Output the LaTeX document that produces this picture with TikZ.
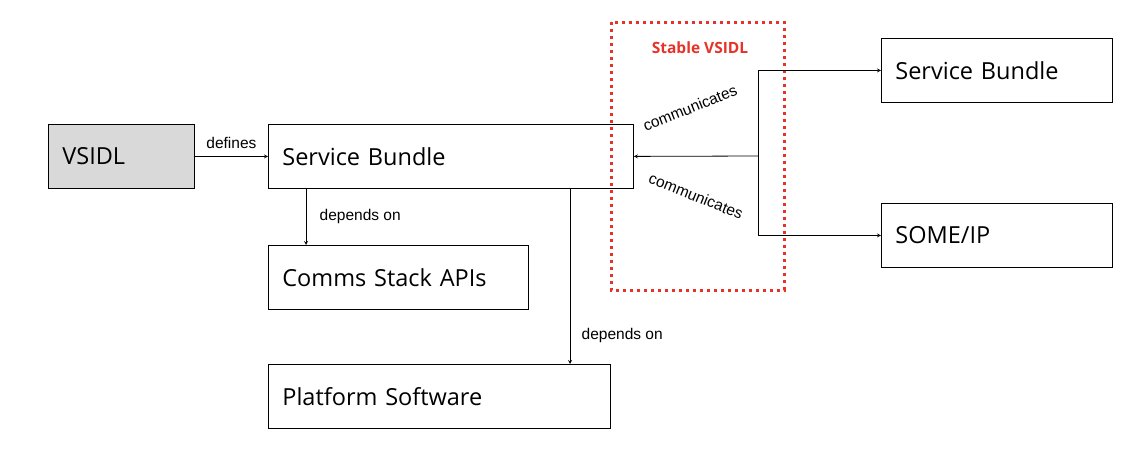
\documentclass[tikz,border=0pt]{standalone}
\usepackage{fontspec}
\setmainfont{Open Sans}
\newfontfamily\labelfont{Liberation Sans}
\usetikzlibrary{positioning}

\definecolor{stablered}{RGB}{230,50,40}

\tikzset{
  box/.style={draw,thick,minimum height=64pt,text width=#1,align=left,inner sep=14pt,font=\fontsize{23.5}{25}\selectfont},
  box/.default=200pt,
  lbl/.style={font=\labelfont\fontsize{15.5}{17}\selectfont},
  conn/.style={thick,-stealth}
}

\begin{document}
\begin{tikzpicture}[x=1pt,y=-1pt]
	\useasboundingbox (0,0) rectangle (1140,450);
	
	\node[box=118pt,fill=black!15,anchor=north west] (vsidl) at (48,124) {VSIDL};
	\node[box=337pt,anchor=north west] (bundle) at (268,124) {Service Bundle};
	\node[box=232pt,anchor=north west] (comms) at (268,245) {Comms Stack APIs};
	\node[box=314pt,anchor=north west] (platform) at (268,364) {Platform Software};
	\node[box=203pt,anchor=north west] (rbundle) at (881,38) {Service Bundle};
	\node[box=203pt,anchor=north west] (someip) at (881,203) {SOME/IP};
	
	% stable region
	\draw[stablered,line width=3pt,dash pattern=on 3pt off 4pt] (611,22) rectangle (784,290);
	\node[text=stablered,font=\bfseries\fontsize{15.5}{17}\selectfont] (stable) at (700,48) {Stable VSIDL};
	
	\draw[conn] (vsidl) -- node[lbl,above=4pt] {defines} (bundle);
	\draw[conn] (bundle.south -| 306,0) -- node[lbl,right=10pt] {depends on} (comms.north -| 306,0);
	\draw[conn] (bundle.south -| 570,0) -- node[lbl,right=8pt,pos=0.84] {depends on} (platform.north -| 570,0);
	
	\coordinate (hub) at (758,156);
	\draw[conn] (hub) -- (bundle.east);
	\draw[conn] (hub) |- (rbundle.west);
	\draw[conn] (hub) |- (someip.west);
	\node[lbl,rotate=22] (comm1) at (690,108) {communicates};
	\node[lbl,rotate=-22] (comm2) at (696,196) {communicates};
\end{tikzpicture}
\end{document}
